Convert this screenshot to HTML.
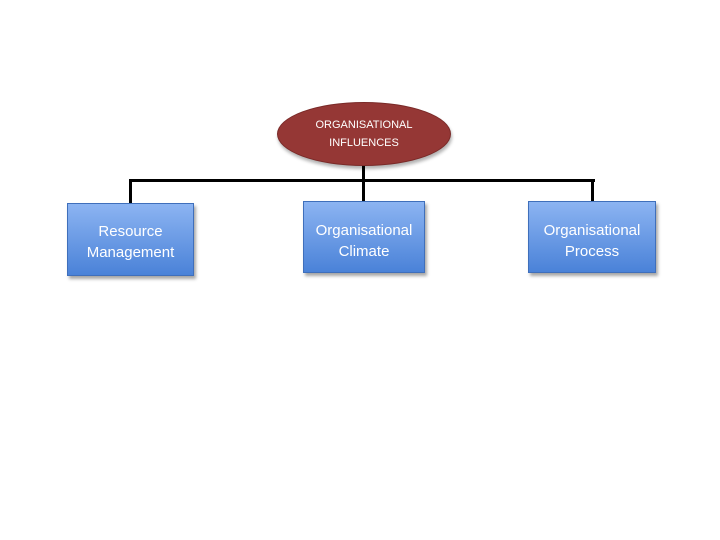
<!DOCTYPE html>
<html><head><style>
body{margin:0;width:720px;height:540px;background:#fff;position:relative;overflow:hidden;font-family:"Liberation Sans",sans-serif}
.b{position:absolute;background:linear-gradient(#8cb4f2,#4a82d8);border:1px solid #3f6fbb;box-shadow:2px 3px 3px rgba(0,0,0,.35);color:#fff;font-size:15px;line-height:21px;display:flex;align-items:center;justify-content:center;text-align:center}
.l{position:absolute;background:#000}
</style></head><body>
<div class="l" style="left:129px;top:179px;width:466px;height:3px"></div>
<div class="l" style="left:362px;top:160px;width:3px;height:42px"></div>
<div class="l" style="left:129px;top:179px;width:3px;height:25px"></div>
<div class="l" style="left:591px;top:179px;width:3px;height:23px"></div>
<div style="position:absolute;left:277px;top:102px;width:172px;height:62px;border-radius:50%;background:#953735;border:1px solid #7a2a28;box-shadow:1px 3px 3px rgba(0,0,0,.3);color:#fff;font-size:11px;line-height:18px;display:flex;align-items:center;justify-content:center;text-align:center">ORGANISATIONAL<br>INFLUENCES</div>
<div class="b" style="left:67px;top:203px;width:125px;height:71px;align-items:flex-start"><div style="margin-top:17px">Resource<br>Management</div></div>
<div class="b" style="left:303px;top:201px;width:120px;height:70px;align-items:flex-start"><div style="margin-top:18px">Organisational<br>Climate</div></div>
<div class="b" style="left:528px;top:201px;width:126px;height:70px;align-items:flex-start"><div style="margin-top:18px">Organisational<br>Process</div></div>
</body></html>
